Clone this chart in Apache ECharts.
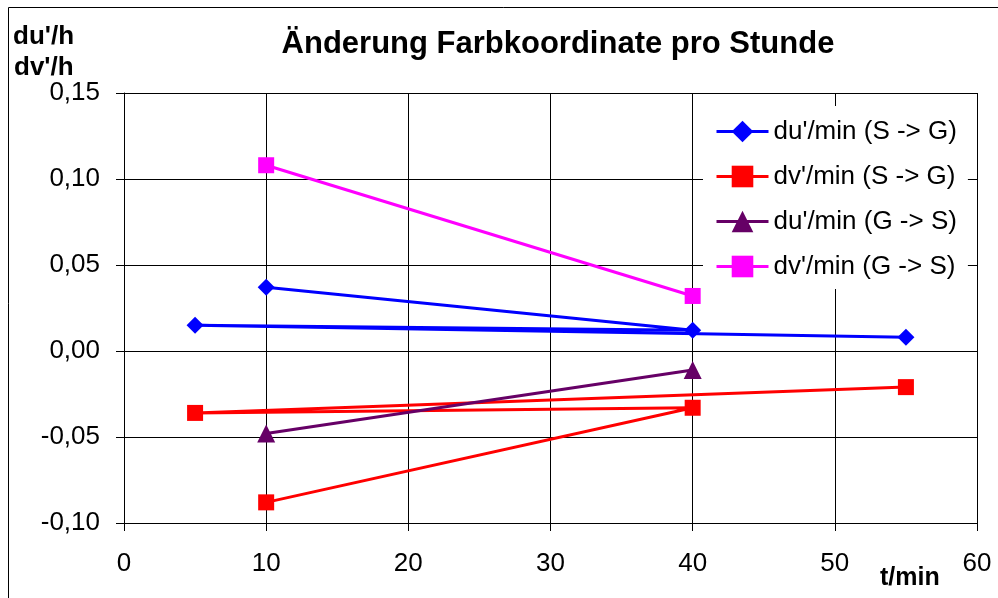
<!DOCTYPE html>
<html>
<head>
<meta charset="utf-8">
<script src="https://cdn.jsdelivr.net/npm/echarts@6/dist/echarts.min.js"></script>
<style>html,body{margin:0;padding:0;background:#fff}#c{width:998px;height:598px}</style>
</head>
<body>
<div id="c"></div>
<script>
const seriesNames = ["du'/min (S -> G)", "dv'/min (S -> G)", "du'/min (G -> S)", "dv'/min (G -> S)"];
const duSG_t = [10, 40, 5, 55];
const duSG_v = [0.037, 0.012, 0.015, 0.008];
const dvSG_t = [10, 40, 5, 55];
const dvSG_v = [-0.088, -0.033, -0.036, -0.021];
const duGS_t = [10, 40];
const duGS_v = [-0.048, -0.011];
const dvGS_t = [10, 40];
const dvGS_v = [0.108, 0.032];
const yTicks = [-0.10, -0.05, 0.00, 0.05, 0.10, 0.15];
const xTicks = [0, 10, 20, 30, 40, 50, 60];

const FONT = '"Liberation Sans", Arial, sans-serif';
const pairs = (t, v) => t.map((x, i) => [x, v[i]]);
const chart = echarts.init(document.getElementById('c'), null, {renderer: 'canvas'});

function mk(name, t, v, color, symbol, size, smooth) {
  return {
    name, type: 'line', data: pairs(t, v), smooth: smooth,
    symbol, symbolSize: size, showAllSymbol: true,
    lineStyle: {color, width: 3},
    itemStyle: {color},
    emphasis: {disabled: true},
    z: 3
  };
}

chart.setOption({
  animation: false,
  backgroundColor: '#fff',
  title: {
    text: 'Änderung Farbkoordinate pro Stunde',
    left: 553, top: 24, textAlign: 'center',
    textStyle: {fontFamily: FONT, fontWeight: 'bold', fontSize: 31, color: '#000'}
  },
  grid: {left: 124, right: 21, top: 93, bottom: 75, containLabel: false},
  legend: {
    orient: 'vertical', left: 703, top: 106,
    data: seriesNames,
    backgroundColor: '#fff',
    padding: [12, 11, 9, 12],
    itemWidth: 52, itemHeight: 27, itemGap: 18,
    lineStyle: {width: 3},
    textStyle: {fontFamily: FONT, fontSize: 26, color: '#000', lineHeight: 27},
    z: 10
  },
  xAxis: {
    type: 'value', min: xTicks[0], max: xTicks[xTicks.length - 1], interval: 10,
    axisLine: {show: true, onZero: false, lineStyle: {color: '#000', width: 1}},
    axisTick: {show: true, length: 8, lineStyle: {color: '#000'}},
    axisLabel: {fontFamily: FONT, fontSize: 26, color: '#000', margin: 28},
    splitLine: {show: true, lineStyle: {color: '#000', width: 1}}
  },
  yAxis: {
    type: 'value', min: yTicks[0], max: yTicks[yTicks.length - 1], interval: 0.05,
    axisLine: {show: true, onZero: false, lineStyle: {color: '#000', width: 1}},
    axisTick: {show: true, length: 8, lineStyle: {color: '#000'}},
    axisLabel: {fontFamily: FONT, fontSize: 26, color: '#000', margin: 24,
      formatter: v => (Math.abs(v) < 1e-9 ? 0 : v).toFixed(2).replace('.', ',')},
    splitLine: {show: true, lineStyle: {color: '#000', width: 1}}
  },
  graphic: [
    {type: 'rect', shape: {x: 8.5, y: 7.5, width: 1200, height: 800}, style: {fill: null, stroke: '#000', lineWidth: 1}, z: 0, silent: true},
    {type: 'text', left: 13, top: 24, style: {text: "du'/h", fontFamily: FONT, fontWeight: 'bold', fontSize: 26, fill: '#000'}},
    {type: 'text', left: 14, top: 55, style: {text: "dv'/h", fontFamily: FONT, fontWeight: 'bold', fontSize: 26, fill: '#000'}},
    {type: 'text', left: 880, top: 566, style: {text: 't/min', fontFamily: FONT, fontWeight: 'bold', fontSize: 25, fill: '#000'}}
  ],
  series: [
    mk(seriesNames[0], duSG_t, duSG_v, '#0000ff', 'diamond', 17, 0.5),
    mk(seriesNames[1], dvSG_t, dvSG_v, '#ff0000', 'rect', 16, 0.5),
    mk(seriesNames[2], duGS_t, duGS_v, '#660066', 'triangle', 18, false),
    mk(seriesNames[3], dvGS_t, dvGS_v, '#ff00ff', 'rect', 16, false)
  ]
});
</script>
</body>
</html>
